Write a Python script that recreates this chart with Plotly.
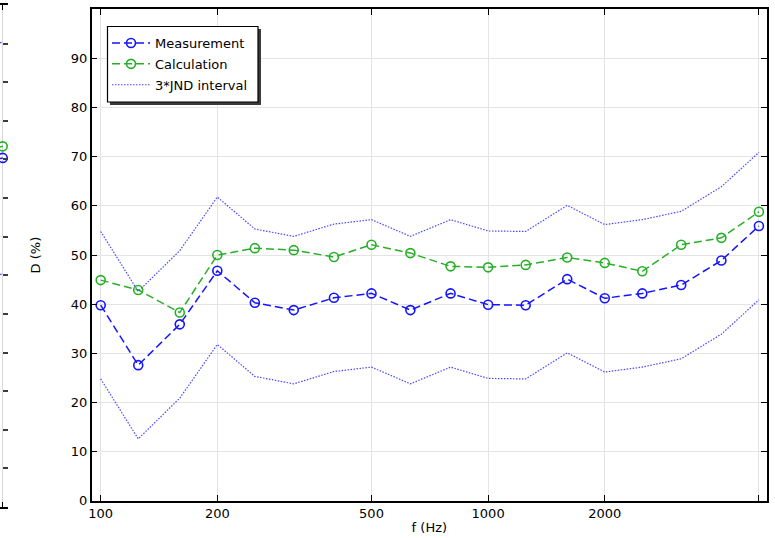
import math
import plotly.graph_objects as go

# One-third octave band centre frequencies (Hz)
freq = [100, 125, 160, 200, 250, 315, 400, 500, 630, 800, 1000, 1250,
        1600, 2000, 2500, 3150, 4000, 5000]

# Measured and calculated D (%)
measurement = [39.8, 27.6, 35.9, 46.8, 40.3, 38.8, 41.3, 42.2, 38.8, 42.2,
               39.9, 39.8, 45.1, 41.2, 42.2, 43.9, 48.9, 55.9]
calculation = [44.9, 42.9, 38.3, 50.0, 51.4, 51.0, 49.6, 52.1, 50.4, 47.7,
               47.5, 48.0, 49.5, 48.4, 46.7, 52.1, 53.5, 58.8]

# 3*JND band around the measurement
jnd_upper = [54.8, 42.6, 50.9, 61.8, 55.3, 53.8, 56.3, 57.2, 53.8, 57.2,
             54.9, 54.8, 60.1, 56.2, 57.2, 58.9, 63.9, 70.9]
jnd_lower = [24.8, 12.6, 20.9, 31.8, 25.3, 23.8, 26.3, 27.2, 23.8, 27.2,
             24.9, 24.8, 30.1, 26.2, 27.2, 28.9, 33.9, 40.9]

# Tail end of the adjacent panel (last two bands)
side_freq = [4000, 5000]
side_measurement = [44.0, 45.2]
side_calculation = [45.5, 46.7]
side_upper = [59.0, 60.2]
side_lower = [29.0, 30.2]

x_ticks = [100, 200, 500, 1000, 2000, 5000]
x_ticktext = ["100", "200", "500", "1000", "2000", ""]
y_ticks = [0, 10, 20, 30, 40, 50, 60, 70, 80, 90]

BLUE = "rgb(20,20,255)"
GREEN = "rgb(40,175,40)"
DOT_BLUE = "rgba(40,40,255,0.85)"
FONT = "DejaVu Sans"

W, H = 775, 538
ML, MR, MT, MB = 0, 8, 5, 31
PW, PH = W - ML - MR, H - MT - MB


def px_x(p):
    return (p - ML) / PW


def px_y(p):
    return (H - MB - p) / PH


fig = go.Figure()

marker_style = dict(symbol="circle-open", size=9, line=dict(width=1.6))

fig.add_trace(go.Scatter(
    x=freq, y=measurement, name="Measurement", mode="lines+markers",
    line=dict(color=BLUE, width=1.5, dash="8px,4px"),
    marker=dict(color=BLUE, **marker_style),
    xaxis="x", yaxis="y", legendgroup="meas"))
fig.add_trace(go.Scatter(
    x=freq, y=calculation, name="Calculation", mode="lines+markers",
    line=dict(color=GREEN, width=1.5, dash="8px,4px"),
    marker=dict(color=GREEN, **marker_style),
    xaxis="x", yaxis="y", legendgroup="calc"))
fig.add_trace(go.Scatter(
    x=freq, y=jnd_upper, name="3*JND interval", mode="lines",
    line=dict(color=DOT_BLUE, width=1.2, dash="1.5px,1.5px"),
    xaxis="x", yaxis="y", legendgroup="jnd"))
fig.add_trace(go.Scatter(
    x=freq, y=jnd_lower, name="3*JND interval", mode="lines",
    line=dict(color=DOT_BLUE, width=1.2, dash="1.5px,1.5px"),
    xaxis="x", yaxis="y", legendgroup="jnd", showlegend=False))

# Adjacent panel sliver
for ys, col, mk in [(side_upper, DOT_BLUE, False), (side_lower, DOT_BLUE, False),
                    (side_calculation, GREEN, True), (side_measurement, BLUE, True)]:
    fig.add_trace(go.Scatter(
        x=side_freq, y=ys, mode="lines+markers" if mk else "lines",
        line=dict(color=col, width=1.5 if mk else 1.2,
                  dash="8px,4px" if mk else "1.5px,1.5px"),
        marker=dict(color=col, **marker_style) if mk else None,
        xaxis="x2", yaxis="y2", showlegend=False, cliponaxis=False))

axis_common = dict(
    showline=True, linecolor="black", linewidth=1.5, mirror="ticks",
    ticks="inside", ticklen=6, tickwidth=1.2, tickcolor="black",
    showgrid=True, gridcolor="rgb(228,228,228)", gridwidth=1,
    zeroline=False, automargin=False,
    tickfont=dict(family=FONT, size=13, color="black"),
)

fig.update_layout(
    width=W, height=H,
    margin=dict(l=ML, r=MR, t=MT, b=MB, pad=0, autoexpand=False),
    paper_bgcolor="white", plot_bgcolor="white",
    font=dict(family=FONT, size=13, color="black"),
    xaxis=dict(
        type="log", domain=[px_x(91.7), 1.0],
        range=[1.9768, 3.7198], tickvals=x_ticks, ticktext=x_ticktext,
        anchor="y",
        title=dict(text="f (Hz)", standoff=3,
                   font=dict(family=FONT, size=13)),
        **axis_common),
    yaxis=dict(
        domain=[px_y(500.8), px_y(9.3)], range=[0, 100], tickvals=y_ticks,
        anchor="x",
        title=dict(text="D (%)", standoff=27,
                   font=dict(family=FONT, size=13)),
        **axis_common),
    xaxis2=dict(
        type="log", domain=[0, px_x(8.3)],
        range=[math.log10(5000) - 2.7 / 387.6, math.log10(5000) + 5.6 / 387.6],
        tickvals=[5000], showticklabels=False, anchor="y2", automargin=False,
        showline=True, linecolor="black", linewidth=1.5, mirror="ticks",
        ticks="inside", ticklen=5, tickwidth=1.2, tickcolor="black",
        showgrid=True, gridcolor="rgb(215,215,215)", zeroline=False),
    yaxis2=dict(
        domain=[0, 1], range=[0, 65], dtick=5, showticklabels=False,
        anchor="x2", side="right", showline=False, automargin=False,
        ticks="inside", ticklen=5.6, tickwidth=1.5, tickcolor="rgb(60,60,60)",
        showgrid=True, gridcolor="rgb(235,235,235)", zeroline=False),
    legend=dict(
        x=px_x(107), y=px_y(28), xanchor="left", yanchor="top",
        bgcolor="rgba(0,0,0,0)", borderwidth=0,
        font=dict(family=FONT, size=13, color="black"),
        itemwidth=38, tracegroupgap=1),
    shapes=[
        # legend drop shadow
        dict(type="rect", xref="paper", yref="paper",
             x0=px_x(110), x1=px_x(261), y0=px_y(105), y1=px_y(29),
             fillcolor="rgb(60,60,60)", line=dict(width=0), layer="above"),
        # legend frame
        dict(type="rect", xref="paper", yref="paper",
             x0=px_x(107.5), x1=px_x(258), y0=px_y(102), y1=px_y(26.5),
             fillcolor="white", line=dict(color="black", width=1.2),
             layer="above"),
    ],
)

fig.write_html("out.html")
